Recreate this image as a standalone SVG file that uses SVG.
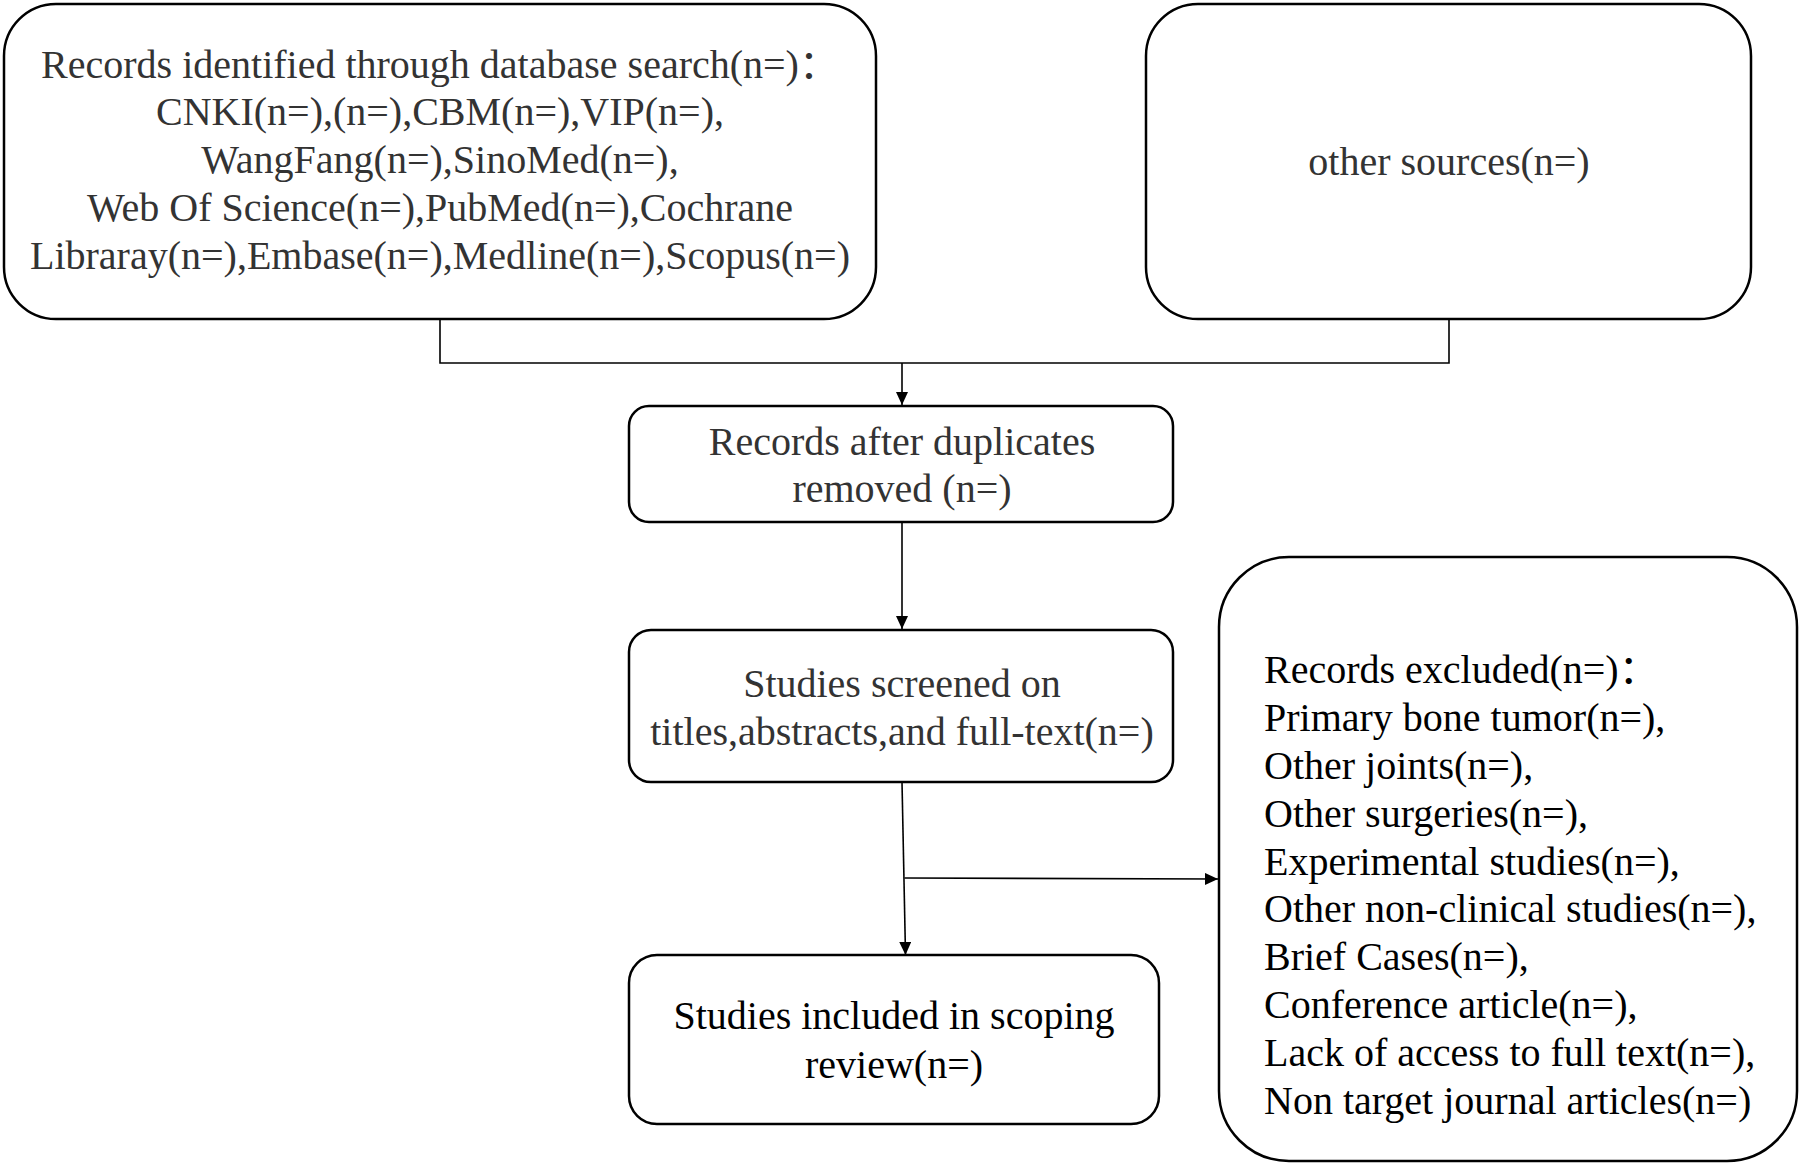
<svg xmlns="http://www.w3.org/2000/svg" width="1800" height="1164" viewBox="0 0 1800 1164">
<style>
.box{fill:#fff;stroke:#000;stroke-width:2.5}
.t{font-family:"Liberation Serif","Times New Roman","Noto Sans CJK SC",serif;font-size:40px;fill:#333}
.c{text-anchor:middle}
.k{fill:#000}
.ln{fill:none;stroke:#000;stroke-width:1.6}
</style>
<defs>
<marker id="ah" viewBox="0 0 13 12" refX="13" refY="6" markerWidth="13" markerHeight="12" markerUnits="userSpaceOnUse" orient="auto"><path d="M0,0 L13,6 L0,12 z" fill="#000"/></marker>
</defs>
<rect width="1800" height="1164" fill="#fff"/>
<g id="connectors">
<path class="ln" d="M440,319 V363 H1449 V319"/>
<path class="ln" d="M902,363 V405" marker-end="url(#ah)"/>
<path class="ln" d="M902,522 V629" marker-end="url(#ah)"/>
<path class="ln" d="M902,782 L905.5,955" marker-end="url(#ah)"/>
<path class="ln" d="M904.5,878 L1218,879" marker-end="url(#ah)"/>
</g>
<g id="database-search">
<rect class="box" x="4" y="4" width="872" height="315" rx="52"/>
<text class="t c" x="440" y="78">Records identified through database search(n=)：</text>
<text class="t c" x="440" y="125">CNKI(n=),(n=),CBM(n=),VIP(n=),</text>
<text class="t c" x="440" y="173">WangFang(n=),SinoMed(n=),</text>
<text class="t c" x="440" y="221">Web Of Science(n=),PubMed(n=),Cochrane</text>
<text class="t c" x="440" y="269">Libraray(n=),Embase(n=),Medline(n=),Scopus(n=)</text>
</g>
<g id="other-sources">
<rect class="box" x="1146" y="4" width="605" height="315" rx="52"/>
<text class="t c" x="1449" y="175">other sources(n=)</text>
</g>
<g id="duplicates-removed">
<rect class="box" x="629" y="406" width="544" height="116" rx="20"/>
<text class="t c" x="902" y="455">Records after duplicates</text>
<text class="t c" x="902" y="502">removed (n=)</text>
</g>
<g id="screened">
<rect class="box" x="629" y="630" width="544" height="152" rx="22"/>
<text class="t c" x="902" y="697">Studies screened on</text>
<text class="t c" x="902" y="745">titles,abstracts,and full-text(n=)</text>
</g>
<g id="included">
<rect class="box" x="629" y="955" width="530" height="169" rx="28"/>
<text class="t c k" x="894" y="1029">Studies included in scoping</text>
<text class="t c k" x="894" y="1078">review(n=)</text>
</g>
<g id="excluded">
<rect class="box" x="1219" y="557" width="578" height="604" rx="70"/>
<text class="t k" x="1264" y="683">Records excluded(n=)：</text>
<text class="t k" x="1264" y="731">Primary bone tumor(n=),</text>
<text class="t k" x="1264" y="779">Other joints(n=),</text>
<text class="t k" x="1264" y="827">Other surgeries(n=),</text>
<text class="t k" x="1264" y="875">Experimental studies(n=),</text>
<text class="t k" x="1264" y="922">Other non-clinical studies(n=),</text>
<text class="t k" x="1264" y="970">Brief Cases(n=),</text>
<text class="t k" x="1264" y="1018">Conference article(n=),</text>
<text class="t k" x="1264" y="1066">Lack of access to full text(n=),</text>
<text class="t k" x="1264" y="1114">Non target journal articles(n=)</text>
</g>
</svg>
